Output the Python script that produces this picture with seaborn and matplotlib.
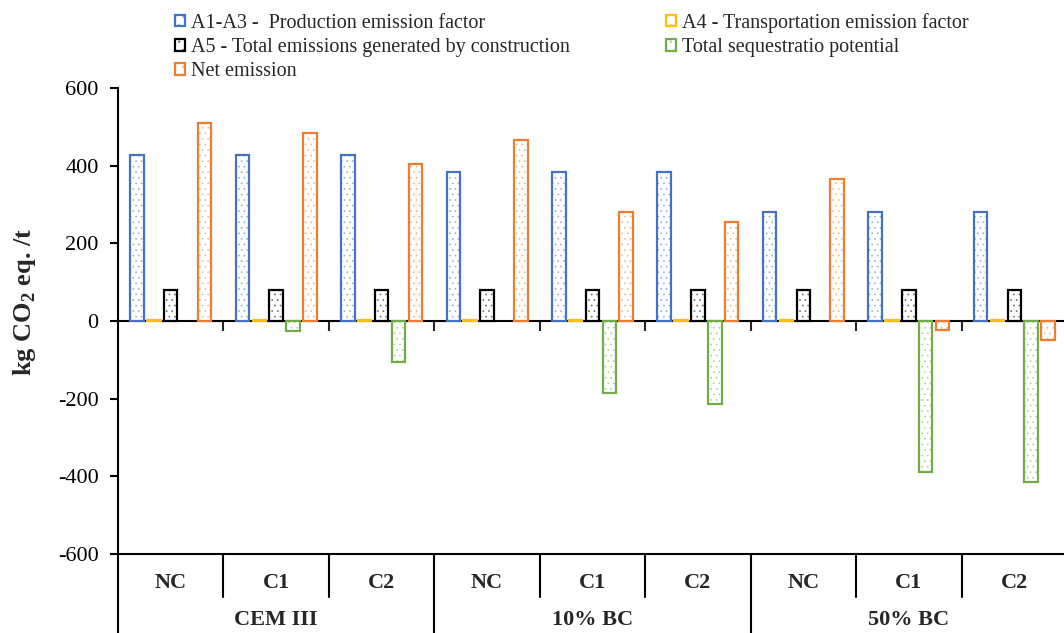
import numpy as np
import pandas as pd
import matplotlib
matplotlib.use("Agg")
import matplotlib.pyplot as plt
from matplotlib.patches import Patch
from matplotlib.colors import to_rgba
import seaborn as sns

# ---------------- data ----------------
groups = ["CEM III", "10% BC", "50% BC"]
mixes = ["NC", "C1", "C2"]
series = [
    "A1-A3 -  Production emission factor",
    "A4 - Transportation emission factor",
    "A5 - Total emissions generated by construction",
    "Total sequestratio potential",
    "Net emission",
]
a1_a3 = [427, 427, 427, 384, 384, 384, 281, 281, 281]
a4 = [3, 3, 3, 3, 3, 3, 3, 3, 3]
a5 = [81, 81, 81, 81, 81, 81, 81, 81, 81]
sequestration = [np.nan, -25, -106, np.nan, -186, -214, np.nan, -388, -414]
net_emission = [510, 485, 404, 466, 281, 255, 365, -24, -50]
y_ticks = [-600, -400, -200, 0, 200, 400, 600]
y_label = r"kg CO$_\mathbf{2}$ eq. /t"

colors = ["#4472C4", "#FFC000", "#000000", "#70AD47", "#ED7D31"]


def light(c, f=0.55):
    r, g, b, _ = to_rgba(c)
    return (r + (1 - r) * (1 - f), g + (1 - g) * (1 - f), b + (1 - b) * (1 - f), 1.0)


# ---------------- frame ----------------
cats = [f"{g}|{m}" for g in groups for m in mixes]
values = [a1_a3, a4, a5, sequestration, net_emission]
rows = []
for s, vals in zip(series, values):
    for c, v in zip(cats, vals):
        rows.append({"cat": c, "series": s, "value": v})
df = pd.DataFrame(rows)

sns.set_style("ticks")
plt.rcParams["font.family"] = ["Liberation Serif", "DejaVu Serif"]
plt.rcParams["mathtext.fontset"] = "custom"
plt.rcParams["mathtext.rm"] = "Liberation Serif"
plt.rcParams["mathtext.bf"] = "Liberation Serif:bold"
plt.rcParams["axes.unicode_minus"] = False
plt.rcParams["hatch.linewidth"] = 0.5

fig = plt.figure(figsize=(10.64, 6.33), dpi=100)
ax = fig.add_axes([118 / 1064, 1 - 554 / 633, 949 / 1064, 466 / 633])

sns.barplot(
    data=df.dropna(), x="cat", y="value", hue="series", order=cats,
    hue_order=series, palette=colors, fill=False, linewidth=1.6,
    gap=0.2, width=0.8, ax=ax, legend=False, err_kws={"linewidth": 0},
)
for p in ax.patches:
    ec = p.get_edgecolor()
    p.set_hatch("...")
    p.set_facecolor("white")
    p._hatch_color = light(ec, 0.55)
    p.set_zorder(2)

ax.set_xlim(-0.5, len(cats) - 0.5)
ax.set_ylim(-600, 600)
ax.set_yticks(y_ticks)
ax.set_yticklabels([str(t) for t in y_ticks])
ax.tick_params(axis="y", direction="out", length=6, width=1.5, labelsize=16,
               pad=8, colors="black")
ax.tick_params(axis="x", length=0, labelbottom=False)
ax.set_xlabel("")
ax.set_ylabel("")
for side in ["top", "right"]:
    ax.spines[side].set_visible(False)
for side in ["left", "bottom"]:
    ax.spines[side].set_linewidth(1.5)
    ax.spines[side].set_color("black")

fig.text(25 / 1064, 1 - 302 / 633, y_label, rotation=90, ha="center",
         va="center", fontsize=19, fontweight="bold")

# zero line with category-boundary ticks (pointing down)
ax.axhline(0, color="black", lw=1.5, zorder=1)
sec = ax.secondary_xaxis(0.5)
sec.set_xticks(np.arange(0.5, len(cats), 1.0))
sec.set_xticklabels([])
sec.tick_params(axis="x", direction="in", length=7, width=1.5,
                labelbottom=False, labeltop=False)
for s in sec.spines.values():
    s.set_visible(False)

# category table below the plot
tr = ax.get_xaxis_transform()
for i, c in enumerate(cats):
    ax.text(i, -0.062, c.split("|")[1], transform=tr, ha="center", va="center",
            fontsize=16, fontweight="bold")
for gi, g in enumerate(groups):
    ax.text(gi * 3 + 1, -0.141, g, transform=tr, ha="center", va="center",
            fontsize=16, fontweight="bold")
for b in np.arange(0.5, len(cats), 1.0):
    if round(b + 0.5) % 3 == 0:
        ax.plot([b, b], [0, -0.25], transform=tr, color="black", lw=1.5, clip_on=False)
    else:
        ax.plot([b, b], [0, -0.092], transform=tr, color="black", lw=1.5, clip_on=False)
ax.plot([-0.5, -0.5], [0, -0.25], transform=tr, color="black", lw=1.5, clip_on=False)

# legend (row-wise order)
handles = []
for col in colors:
    h = Patch(facecolor="white", edgecolor=col, hatch="..", linewidth=1.6)
    h._hatch_color = light(col, 0.55)
    handles.append(h)
order = [0, 2, 4, 1, 3]
fig.legend([handles[i] for i in order], [series[i] for i in order],
           loc="upper left", bbox_to_anchor=(175 / 1064, 1 - 13 / 633),
           ncol=2, frameon=False, fontsize=14.5, handlelength=0.5,
           handleheight=0.5, handletextpad=0.3, labelspacing=0.25,
           columnspacing=4.75, borderpad=0, borderaxespad=0)

fig.savefig("out.png", dpi=100)
